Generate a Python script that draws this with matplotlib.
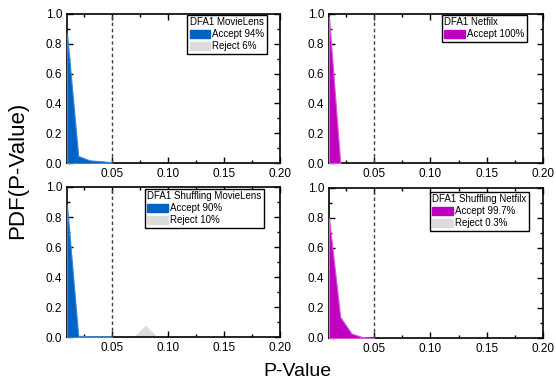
import matplotlib
matplotlib.use("Agg")
import matplotlib.pyplot as plt
from matplotlib.ticker import MultipleLocator
from matplotlib.patches import Patch

plt.rcParams['font.family'] = ['Liberation Sans', 'DejaVu Sans']

# P-value grid points and PDF values
ml_accept_x = [0.01, 0.02, 0.03, 0.04, 0.05]
ml_accept_y = [0.87, 0.047, 0.018, 0.012, 0.005]
ml_reject_x = [0.05, 0.06, 0.07, 0.08, 0.09, 0.10, 0.11, 0.12, 0.13, 0.14, 0.15, 0.16, 0.17, 0.18, 0.19, 0.20]
ml_reject_y = [0.0, 0.006, 0.0, 0.0, 0.0, 0.0, 0.0, 0.0, 0.0, 0.0, 0.0, 0.0, 0.005, 0.0, 0.0, 0.0]

nf_accept_x = [0.01, 0.02]
nf_accept_y = [0.98, 0.0]

sml_accept_x = [0.01, 0.02, 0.03, 0.04, 0.05]
sml_accept_y = [0.88, 0.008, 0.005, 0.005, 0.005]
sml_reject_x = [0.05, 0.06, 0.07, 0.08, 0.09, 0.10, 0.11, 0.12, 0.13]
sml_reject_y = [0.0, 0.0, 0.0, 0.073, 0.0, 0.0, 0.0, 0.004, 0.0]

snf_accept_x = [0.01, 0.02, 0.03, 0.04, 0.05]
snf_accept_y = [0.80, 0.14, 0.03, 0.005, 0.0]
snf_reject_x = [0.05, 0.06]
snf_reject_y = [0.0, 0.0]

titles = ["DFA1 MovieLens", "DFA1 Netfilx", "DFA1 Shuffling MovieLens", "DFA1 Shuffling Netfilx"]
accept_labels = ["Accept 94%", "Accept 100%", "Accept 90%", "Accept 99.7%"]
reject_labels = ["Reject 6%", None, "Reject 10%", "Reject 0.3%"]

BLUE = "#0062C4"
BLUE_EDGE = "#3A86D4"
MAGENTA = "#C000C0"
MAGENTA_EDGE = "#D858D8"
GRAY = "#DCDCDC"

W, H = 556, 382
fig = plt.figure(figsize=(W / 100, H / 100), dpi=100)


def px_axes(left, top, right, bottom):
    return fig.add_axes([left / W, 1 - bottom / H, (right - left) / W, (bottom - top) / H])


panels = [
    dict(ax=px_axes(67, 14, 280, 163), acc=(ml_accept_x, ml_accept_y), rej=(ml_reject_x, ml_reject_y),
         color=BLUE, edge=BLUE_EDGE, anchor=(267, 15)),
    dict(ax=px_axes(329, 14, 543, 163), acc=(nf_accept_x, nf_accept_y), rej=None,
         color=MAGENTA, edge=MAGENTA_EDGE, anchor=(527, 15)),
    dict(ax=px_axes(67, 187, 280, 337), acc=(sml_accept_x, sml_accept_y), rej=(sml_reject_x, sml_reject_y),
         color=BLUE, edge=BLUE_EDGE, anchor=(264, 189)),
    dict(ax=px_axes(329, 188, 543, 338), acc=(snf_accept_x, snf_accept_y), rej=(snf_reject_x, snf_reject_y),
         color=MAGENTA, edge=MAGENTA_EDGE, anchor=(529, 192)),
]

for i, p in enumerate(panels):
    ax = p['ax']
    if p['rej'] is not None:
        ax.fill_between(p['rej'][0], p['rej'][1], 0, facecolor=GRAY, edgecolor=GRAY, lw=0.8, zorder=2)
    ax.fill_between(p['acc'][0], p['acc'][1], 0, facecolor=p['color'], edgecolor=p['edge'], lw=0.8, zorder=3)
    ax.axvline(0.05, color="#404040", ls=(0, (2.5, 2)), lw=1.0, zorder=4)

    ax.set_xlim(0.01, 0.2)
    ax.set_ylim(0, 1.0)
    ax.xaxis.set_major_locator(MultipleLocator(0.05))
    ax.xaxis.set_minor_locator(MultipleLocator(0.025))
    ax.yaxis.set_major_locator(MultipleLocator(0.2))
    ax.yaxis.set_minor_locator(MultipleLocator(0.1))
    ax.xaxis.set_major_formatter(plt.FuncFormatter(lambda v, pos: f"{v:.2f}"))
    ax.yaxis.set_major_formatter(plt.FuncFormatter(lambda v, pos: f"{v:.1f}"))
    ax.tick_params(which='both', direction='in', top=True, right=True, labelsize=8.5, width=1.0)
    ax.tick_params(which='major', length=4)
    ax.tick_params(which='minor', length=2.5)
    for s in ax.spines.values():
        s.set_linewidth(1.2)

    handles = [Patch(facecolor=p['color'], edgecolor=p['color'], label=accept_labels[i])]
    if reject_labels[i] is not None:
        handles.append(Patch(facecolor=GRAY, edgecolor=GRAY, label=reject_labels[i]))
    bbox = ax.get_position()
    ax_x = (p['anchor'][0] / W - bbox.x0) / bbox.width
    ax_y = ((1 - p['anchor'][1] / H) - bbox.y0) / bbox.height
    leg = ax.legend(handles=handles, title=titles[i], loc='upper right', bbox_to_anchor=(ax_x, ax_y),
                    borderaxespad=0, fontsize=7, title_fontsize=7, fancybox=False, framealpha=1,
                    edgecolor='black', handlelength=2.1, handleheight=0.9, handletextpad=0.25,
                    borderpad=0.25, labelspacing=0.2, alignment='left')
    leg.get_frame().set_linewidth(1.0)
    leg.set_zorder(10)

fig.text(297 / W, 1 - 372 / H, "P-Value", fontsize=14, ha='center', va='center')
fig.text(18 / W, 1 - 170 / H, "PDF(P-Value)", fontsize=16, ha='center', va='center', rotation=90)

fig.savefig("out.png", dpi=100)
